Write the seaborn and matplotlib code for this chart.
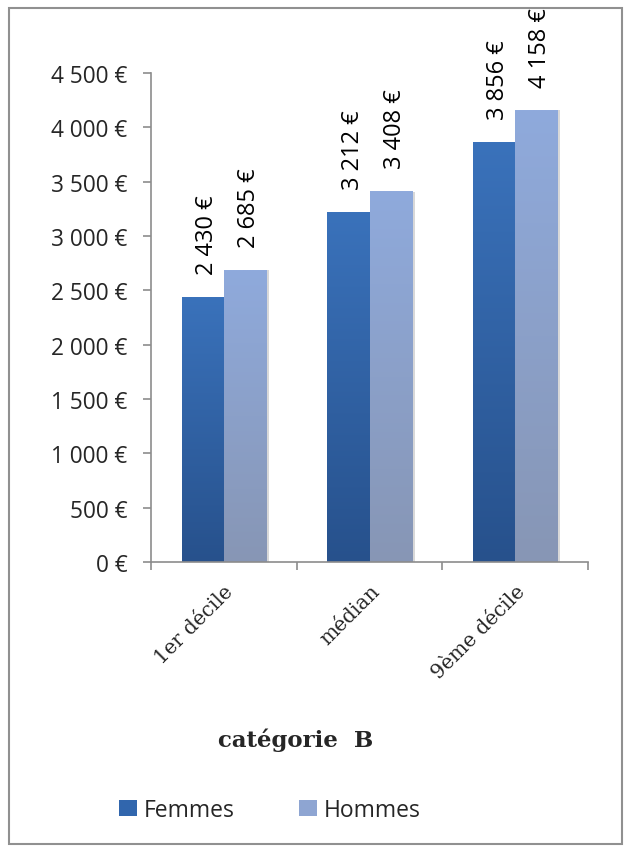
import numpy as np
import pandas as pd
import matplotlib
matplotlib.use("Agg")
import matplotlib.pyplot as plt
import seaborn as sns
from matplotlib.patches import Rectangle, Patch
from matplotlib.colors import LinearSegmentedColormap

categories = ["1er décile", "médian", "9ème décile"]
femmes = [2430, 3212, 3856]
hommes = [2685, 3408, 4158]
series = ["Femmes", "Hommes"]
yticks = [0, 500, 1000, 1500, 2000, 2500, 3000, 3500, 4000, 4500]

def fmt(v):
    s = f"{v:,}".replace(",", " ")
    return f"{s} €"

df = pd.DataFrame({
    "cat": categories * 2,
    "serie": [series[0]] * 3 + [series[1]] * 3,
    "val": femmes + hommes,
})

sns.set_theme(style="white")
plt.rcParams["font.family"] = ["Open Sans", "DejaVu Sans"]

W, H = 631, 853
fig = plt.figure(figsize=(W / 100, H / 100), dpi=100)
ax = fig.add_axes([151 / W, 1 - 563 / H, (588 - 151) / W, (563 - 74) / H])

dark = "#3166ad"
light = "#8ea8d6"
sns.barplot(data=df, x="cat", y="val", hue="serie", order=categories,
            hue_order=series, palette=[dark, light], width=0.58,
            saturation=1, ax=ax, legend=False, errorbar=None)

ax.set_xlim(-0.5, 2.5)
ax.set_ylim(0, 4500)

grads = {
    0: LinearSegmentedColormap.from_list("f", ["#27518c", "#3a72bb"]),
    1: LinearSegmentedColormap.from_list("h", ["#8796b5", "#8faadc"]),
}
bars = ax.patches
for i, p in enumerate(bars):
    x, w, h = p.get_x(), p.get_width(), p.get_height()
    s = 0 if i < 3 else 1
    grad = np.linspace(0, 1, 256).reshape(-1, 1)
    ax.imshow(grad, extent=[x, x + w, 0, h], origin="lower", aspect="auto",
              cmap=grads[s], zorder=2)
    ax.add_patch(Rectangle((x + w, 0), 0.02, h, facecolor="#d8d8d8",
                           edgecolor="none", zorder=1.5))
    p.set_visible(False)
    ax.annotate(fmt(int(round(h))), (x + w / 2, h), xytext=(3, 17),
                textcoords="offset points", rotation=90, ha="center",
                va="bottom", fontsize=17, color="black",
                annotation_clip=False)

ax.set_xlim(-0.5, 2.5)
ax.set_ylim(0, 4500)

for sp in ["top", "right"]:
    ax.spines[sp].set_visible(False)
for sp in ["left", "bottom"]:
    ax.spines[sp].set_color("#8c8c8c")
    ax.spines[sp].set_linewidth(1.2)

ax.set_yticks(yticks)
ax.set_yticklabels([fmt(v) for v in yticks], fontsize=16.3)
ax.set_xticks([-0.5, 0.5, 1.5, 2.5], minor=False)
ax.set_xticklabels([])
ax.set_xticks([0, 1, 2], minor=True)
ax.set_xticklabels(categories, minor=True, rotation=45, ha="right", va="top",
                   rotation_mode="anchor", fontsize=14.5,
                   family=["DejaVu Serif"])
ax.tick_params(axis="x", which="minor", length=0, pad=14)
ax.tick_params(axis="x", which="major", length=6, direction="out",
               color="#8c8c8c", width=1.2)
ax.tick_params(axis="y", length=6, direction="out", color="#8c8c8c",
               width=1.2, pad=11)
ax.tick_params(left=True, bottom=True, which="both")
offs = [0.075, 0.075, 0.055]
for lab, o in zip(ax.get_xticklabels(minor=True), offs):
    lab.set_position((lab.get_position()[0] + o, 0))
ax.set_xlabel("")
ax.set_ylabel("")

fig.text(296 / W, 1 - 740 / H, "catégorie  B", ha="center", va="center",
         fontsize=16.5, fontweight="bold", family=["DejaVu Serif"])

handles = [Patch(facecolor="#3166ad", edgecolor="none"),
           Patch(facecolor="#8ea5d2", edgecolor="none")]
fig.legend(handles, series, loc="center", bbox_to_anchor=(270 / W, 1 - 811 / H),
           ncol=2, frameon=False, fontsize=16.5, handlelength=0.76,
           handleheight=0.76, columnspacing=2.8, handletextpad=0.32)

fig.add_artist(Rectangle((8.5 / W, 1 - 845 / H), (622 - 8.5) / W, (845 - 8.5) / H,
                         transform=fig.transFigure, fill=False,
                         edgecolor="#909090", linewidth=1.5))

fig.savefig("out.png", dpi=100)
